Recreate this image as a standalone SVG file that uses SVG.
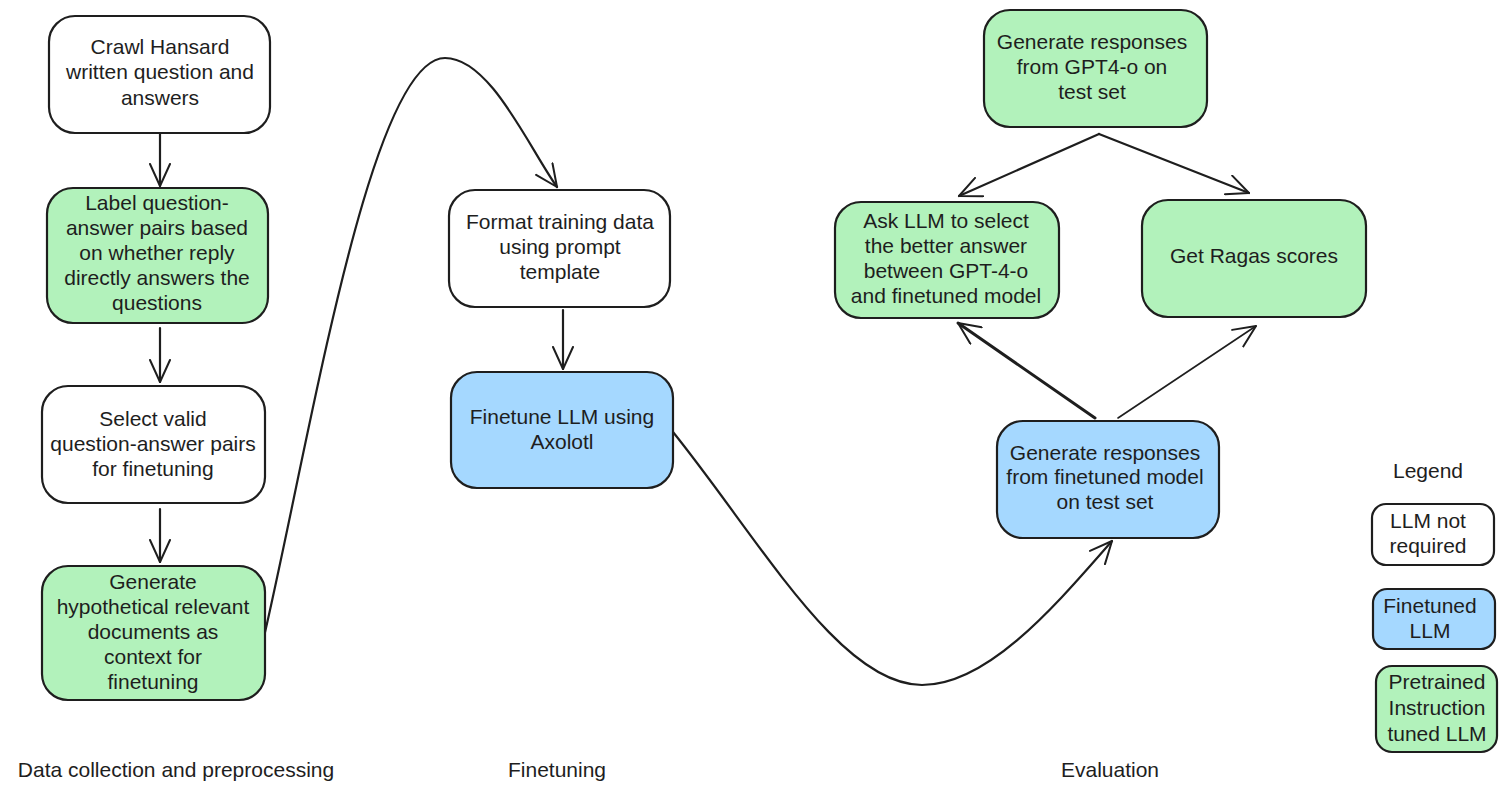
<svg xmlns="http://www.w3.org/2000/svg" width="1507" height="793" viewBox="0 0 1507 793">
<style>
.box{stroke:#1e1e1e;stroke-width:2.2;}
.white{fill:#ffffff;}
.green{fill:#b2f2bb;}
.blue{fill:#a5d8ff;}
.t{font-family:"Liberation Sans",Arial,sans-serif;font-size:21px;fill:#1e1e1e;text-anchor:middle;}
.edge{fill:none;stroke:#1e1e1e;stroke-width:2.2;stroke-linecap:round;}
</style>
<defs>
<marker id="ah" markerUnits="userSpaceOnUse" viewBox="0 0 24 22" refX="23" refY="11" markerWidth="24" markerHeight="22" orient="auto">
<path d="M1,1 L23,11 L1,21" fill="none" stroke="#1e1e1e" stroke-width="2" stroke-linecap="round" stroke-linejoin="round"/>
</marker>
</defs>
<rect width="1507" height="793" fill="#ffffff"/>

<g id="connectors">
<line class="edge" x1="160" y1="134" x2="160" y2="186" marker-end="url(#ah)"/>
<line class="edge" x1="160" y1="328" x2="160" y2="382" marker-end="url(#ah)"/>
<line class="edge" x1="160" y1="509" x2="160" y2="562" marker-end="url(#ah)"/>
<line class="edge" x1="563" y1="310" x2="563" y2="369" marker-end="url(#ah)"/>
<path class="edge" d="M263,641 C310,440 370,58 445,58 C490,58 528,146 557,187" marker-end="url(#ah)"/>
<path class="edge" d="M673,432 C760,540 840,685 922,685 C990,685 1060,600 1112,541" marker-end="url(#ah)"/>
<line class="edge" x1="1099" y1="134" x2="959" y2="196" marker-end="url(#ah)"/>
<line class="edge" x1="1099" y1="134" x2="1249" y2="193" marker-end="url(#ah)"/>
<line class="edge" style="stroke-width:3" x1="1095" y1="418" x2="958" y2="323" marker-end="url(#ah)"/>
<line class="edge" style="stroke-width:1.6" x1="1118" y1="418" x2="1256" y2="326" marker-end="url(#ah)"/>
</g>

<g id="n1">
<rect class="box white" x="49" y="16" width="221" height="117" rx="26"/>
<text class="t" x="160" y="54">Crawl Hansard</text>
<text class="t" x="160" y="79">written question and</text>
<text class="t" x="160" y="105">answers</text>
</g>
<g id="n2">
<rect class="box green" x="47" y="188" width="221" height="135" rx="26"/>
<text class="t" x="157" y="210">Label question-</text>
<text class="t" x="157" y="235">answer pairs based</text>
<text class="t" x="157" y="260">on whether reply</text>
<text class="t" x="157" y="285">directly answers the</text>
<text class="t" x="157" y="310">questions</text>
</g>
<g id="n3">
<rect class="box white" x="42" y="386" width="223" height="117" rx="26"/>
<text class="t" x="153" y="426">Select valid</text>
<text class="t" x="153" y="451">question-answer pairs</text>
<text class="t" x="153" y="476">for finetuning</text>
</g>
<g id="n4">
<rect class="box green" x="42" y="566" width="223" height="134" rx="26"/>
<text class="t" x="153" y="589">Generate</text>
<text class="t" x="153" y="614">hypothetical relevant</text>
<text class="t" x="153" y="639">documents as</text>
<text class="t" x="153" y="664">context for</text>
<text class="t" x="153" y="689">finetuning</text>
</g>
<g id="n5">
<rect class="box white" x="449" y="190" width="221" height="117" rx="26"/>
<text class="t" x="560" y="229">Format training data</text>
<text class="t" x="560" y="254">using prompt</text>
<text class="t" x="560" y="279">template</text>
</g>
<g id="n6">
<rect class="box blue" x="451" y="372" width="222" height="116" rx="26"/>
<text class="t" x="562" y="424">Finetune LLM using</text>
<text class="t" x="562" y="449">Axolotl</text>
</g>
<g id="n7">
<rect class="box green" x="984" y="10" width="223" height="117" rx="26"/>
<text class="t" x="1092" y="49">Generate responses</text>
<text class="t" x="1092" y="74">from GPT4-o on</text>
<text class="t" x="1092" y="99">test set</text>
</g>
<g id="n8">
<rect class="box green" x="835" y="202" width="224" height="116" rx="26"/>
<text class="t" x="946" y="228">Ask LLM to select</text>
<text class="t" x="946" y="253">the better answer</text>
<text class="t" x="946" y="278">between GPT-4-o</text>
<text class="t" x="946" y="303">and finetuned model</text>
</g>
<g id="n9">
<rect class="box green" x="1142" y="200" width="224" height="117" rx="26"/>
<text class="t" x="1254" y="263">Get Ragas scores</text>
</g>
<g id="n10">
<rect class="box blue" x="997" y="421" width="222" height="117" rx="26"/>
<text class="t" x="1105" y="460">Generate responses</text>
<text class="t" x="1105" y="484">from finetuned model</text>
<text class="t" x="1105" y="509">on test set</text>
</g>

<g id="legend">
<text class="t" x="1428" y="478">Legend</text>
<g id="lg1">
<rect class="box white" x="1372" y="504" width="122" height="61" rx="14"/>
<text class="t" x="1428" y="528">LLM not</text>
<text class="t" x="1428" y="553">required</text>
</g>
<g id="lg2">
<rect class="box blue" x="1373" y="589" width="122" height="60" rx="14"/>
<text class="t" x="1430" y="613">Finetuned</text>
<text class="t" x="1430" y="638">LLM</text>
</g>
<g id="lg3">
<rect class="box green" x="1376" y="666" width="121" height="86" rx="16"/>
<text class="t" x="1437" y="689">Pretrained</text>
<text class="t" x="1437" y="715">Instruction</text>
<text class="t" x="1437" y="741">tuned LLM</text>
</g>
</g>

<g id="section-labels">
<text class="t" x="176" y="777">Data collection and preprocessing</text>
<text class="t" x="557" y="777">Finetuning</text>
<text class="t" x="1110" y="777">Evaluation</text>
</g>
</svg>
